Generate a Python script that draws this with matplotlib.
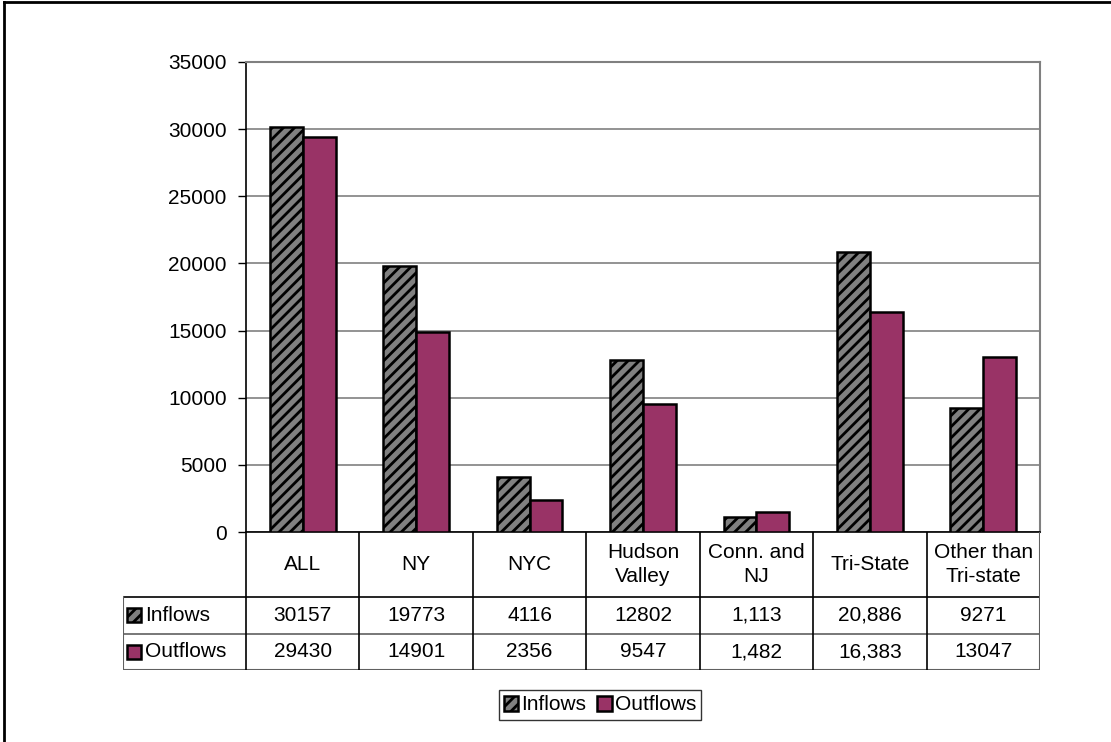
### Inflows / outflows bar chart with an Excel style data table underneath

import matplotlib
matplotlib.use('Agg')

import matplotlib.pyplot as pp
from matplotlib.patches import Rectangle
from matplotlib.lines import Line2D
import numpy as np

##### DATA #####
categories = ['ALL', 'NY', 'NYC', 'Hudson\nValley', 'Conn. and\nNJ', 'Tri-State', 'Other than\nTri-state']
inflows = [30157, 19773, 4116, 12802, 1113, 20886, 9271]
outflows = [29430, 14901, 2356, 9547, 1482, 16383, 13047]
inflows_txt = ['30157', '19773', '4116', '12802', '1,113', '20,886', '9271']
outflows_txt = ['29430', '14901', '2356', '9547', '1,482', '16,383', '13047']
yticks = [0, 5000, 10000, 15000, 20000, 25000, 30000, 35000]

col_in = '#808080'
col_out = '#993366'
grid_col = '#808080'
fs = 15

pp.rcParams['font.family'] = ['Liberation Sans', 'DejaVu Sans']
pp.rcParams['hatch.linewidth'] = 2.0

W, H = 1111, 742
fig = pp.figure(figsize=(W/100, H/100), dpi=100)

def px_axes(x0, y0, x1, y1):
    # pixel box (top-left origin) -> figure axes
    return fig.add_axes([x0/W, 1 - y1/H, (x1 - x0)/W, (y1 - y0)/H])

# Figure frame (top and left edges)
fig.add_artist(Line2D([4/W, 4/W], [0, 1 - 2/H], color='black', lw=2, transform=fig.transFigure))
fig.add_artist(Line2D([4/W, 1], [1 - 2/H, 1 - 2/H], color='black', lw=2, transform=fig.transFigure))

### Bars
ax = px_axes(246, 62, 1040, 532)
x = np.arange(len(categories))
bw = 0.29
ax.bar(x - bw/2, inflows, width=bw, color=col_in, edgecolor='black', hatch='///', linewidth=1.8, zorder=3)
ax.bar(x + bw/2, outflows, width=bw, color=col_out, edgecolor='black', linewidth=1.8, zorder=3)
ax.set_xlim(-0.5, len(categories) - 0.5)
ax.set_ylim(0, 35000)
ax.set_yticks(yticks)
ax.set_yticklabels([str(v) for v in yticks], fontsize=fs)
ax.set_xticks([])
ax.tick_params(axis='y', length=6, width=1, color='black', pad=8)
ax.yaxis.grid(True, color=grid_col, linewidth=1.2)
ax.set_axisbelow(True)
for s in ['top', 'right']:
    ax.spines[s].set_color(grid_col)
    ax.spines[s].set_linewidth(1.5)
for s in ['left', 'bottom']:
    ax.spines[s].set_color('black')
    ax.spines[s].set_linewidth(1.2)

### Data table
tx0 = 123
cw = (1040 - 246)/len(categories)
left_units = (246 - tx0)/cw
tab = px_axes(tx0, 532, 1040, 670)
tab.set_xlim(-0.5 - left_units, len(categories) - 0.5)
# rows: outflows 0-1, inflows 1-2, category row on top
h_cat = (597 - 532)/36.5
tab.set_ylim(0, 2 + h_cat)
tab.axis('off')

lc = '#000000'
top = 2 + h_cat
left = -0.5 - left_units
right = len(categories) - 0.5
# horizontal lines
tab.plot([left, right], [2, 2], color=lc, lw=1.2)
tab.plot([left, right], [1, 1], color='#606060', lw=1.2)
tab.plot([left, right], [0, 0], color='#606060', lw=1.5)
# vertical lines
for i in range(len(categories) + 1):
    tab.plot([i - 0.5, i - 0.5], [0, top], color=lc, lw=1.2)
tab.plot([left, left], [0, 2], color='#606060', lw=1.5)
tab.plot([right, right], [0, top], color='#606060', lw=1.5)

for i, c in enumerate(categories):
    tab.text(i, 2 + h_cat/2, c, ha='center', va='center', fontsize=fs, linespacing=1.3)
    tab.text(i, 1.5, inflows_txt[i], ha='center', va='center', fontsize=fs)
    tab.text(i, 0.5, outflows_txt[i], ha='center', va='center', fontsize=fs)

# row labels with legend keys
kw = 14/cw
kh = 14/36.5
for yc, name, col, hat in [(1.5, 'Inflows', col_in, '///'), (0.5, 'Outflows', col_out, None)]:
    tab.add_patch(Rectangle((left + 4/cw, yc - kh/2), kw, kh, facecolor=col, edgecolor='black',
                            hatch=hat, linewidth=1.8))
    tab.text(left + 22/cw, yc, name, ha='left', va='center', fontsize=fs)

### Legend
handles = [Rectangle((0, 0), 1, 1, facecolor=col_in, edgecolor='black', hatch='///', linewidth=1.8),
           Rectangle((0, 0), 1, 1, facecolor=col_out, edgecolor='black', linewidth=1.8)]
leg = fig.legend(handles, ['Inflows', 'Outflows'], loc='center', bbox_to_anchor=(600/W, 1 - 705/H),
                 ncol=2, fontsize=fs, frameon=True, fancybox=False, handlelength=0.7, handleheight=0.7,
                 handletextpad=0.15, columnspacing=0.5, borderpad=0.25, borderaxespad=0)
leg.get_frame().set_edgecolor('black')
leg.get_frame().set_linewidth(1.0)

pp.savefig('out.png', dpi=100)
